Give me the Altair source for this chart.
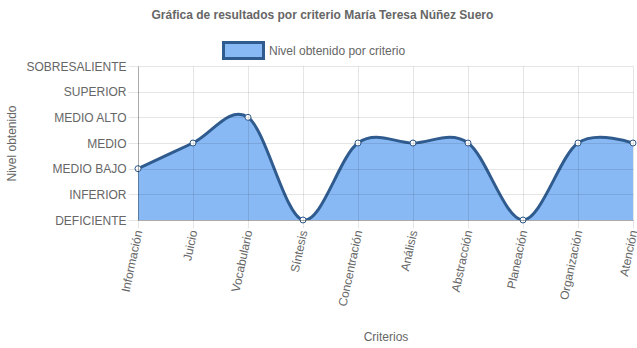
import altair as alt
import pandas as pd

criterios = ["Información", "Juicio", "Vocabulario", "Síntesis", "Concentración",
             "Análisis", "Abstracción", "Planeación", "Organización", "Atención"]
niveles = [2, 3, 4, 0, 3, 3, 3, 0, 3, 3]
etiquetas_nivel = ["DEFICIENTE", "INFERIOR", "MEDIO BAJO", "MEDIO", "MEDIO ALTO",
                   "SUPERIOR", "SOBRESALIENTE"]
serie = "Nivel obtenido por criterio"

df = pd.DataFrame({"criterio": criterios, "nivel": niveles, "serie": [serie] * len(criterios)})

FILL = "#88b9f4"
LINE = "#2f5b8e"
TXT = "#666666"
FONT = "Liberation Sans"

label_expr = "[" + ",".join(f"'{s}'" for s in etiquetas_nivel) + "][datum.value]"

x = alt.X("criterio:N", sort=criterios, title="Criterios",
          scale=alt.Scale(type="point", padding=0),
          axis=alt.Axis(labelAngle=-78, labelAlign="right", labelBaseline="middle",
                        tickSize=8, labelPadding=2, titlePadding=25, grid=True, zindex=1))
y = alt.Y("nivel:Q", title="Nivel obtenido",
          scale=alt.Scale(domain=[0, 6], nice=False),
          axis=alt.Axis(values=[0, 1, 2, 3, 4, 5, 6], labelExpr=label_expr,
                        tickSize=10, labelPadding=2, titlePadding=7, grid=True, zindex=1))

area = alt.Chart(df).mark_area(interpolate="cardinal", clip=True, opacity=1).encode(
    x=x, y=y,
    color=alt.Color("serie:N", scale=alt.Scale(range=[FILL]),
                    legend=alt.Legend(title=None, orient="none", legendX=84, legendY=-37,
                                      symbolType="M-1,-0.4H1V0.4H-1Z", symbolSize=1600,
                                      symbolStrokeColor=LINE, symbolStrokeWidth=3,
                                      symbolOpacity=1, labelFontSize=12, labelColor=TXT,
                                      labelFont=FONT))
)
line = alt.Chart(df).mark_line(interpolate="cardinal", clip=True, color=LINE, strokeWidth=3).encode(
    x=x, y=y)
points = alt.Chart(df).mark_point(filled=True, fill="white", stroke=LINE, strokeWidth=1,
                                  size=36, opacity=1).encode(x=x, y=y)

chart = alt.layer(area, line, points).properties(
    width=495, height=154,
    autosize=alt.AutoSizeParams(type="none"),
    padding={"left": 138, "top": 66, "right": 4, "bottom": 128},
    title=alt.TitleParams("Gráfica de resultados por criterio María Teresa Núñez Suero",
                          fontSize=12, fontWeight="bold", color=TXT, font=FONT,
                          anchor="middle", frame="bounds", offset=7),
).configure_axis(
    labelFont=FONT, titleFont=FONT, labelFontSize=12, titleFontSize=12,
    labelColor=TXT, titleColor=TXT, titleFontWeight="normal",
    gridColor="#000000", gridOpacity=0.1, tickColor="#000000", tickOpacity=0.1,
    domainColor="#000000", domainOpacity=0.25,
).configure_view(stroke=None)

chart.save("out.html", embed_options={"renderer": "svg", "actions": False})
